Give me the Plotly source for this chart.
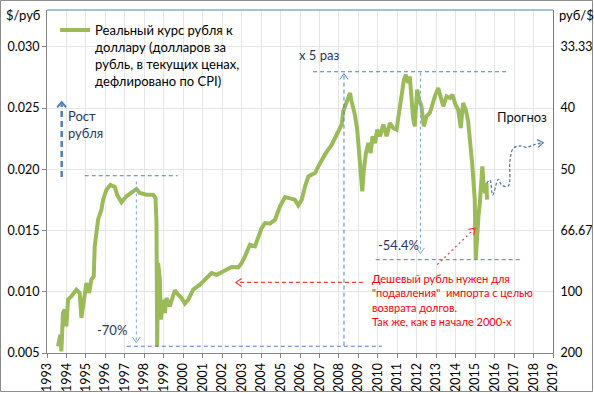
import math
import plotly.graph_objects as go

# ---------------- data ----------------
years = [1993.566, 1993.686, 1993.738, 1993.823, 1993.909, 1993.995, 1994.081, 1994.252, 1994.509, 1994.681,
         1994.767, 1994.852, 1995.024, 1995.161, 1995.281, 1995.401, 1995.453, 1995.624, 1995.796, 1995.882,
         1996.053, 1996.259, 1996.482, 1996.602, 1996.825, 1997.082, 1997.340, 1997.597, 1997.768, 1998.111,
         1998.454, 1998.575, 1998.626, 1998.660, 1998.712, 1998.798, 1998.849, 1998.935, 1999.055, 1999.141,
         1999.312, 1999.569, 1999.741, 1999.913, 2000.084, 2000.256, 2000.513, 2000.856, 2001.199, 2001.456,
         2001.714, 2002.057, 2002.228, 2002.486, 2002.829, 2003.000, 2003.172, 2003.429, 2003.686, 2003.858,
         2004.029, 2004.201, 2004.458, 2004.715, 2004.973, 2005.230, 2005.49, 2005.74, 2005.91, 2006.09,
         2006.26, 2006.43, 2006.60, 2006.77, 2006.94, 2007.11, 2007.28, 2007.45, 2007.63, 2007.80,
         2007.97, 2008.14, 2008.22, 2008.39, 2008.57, 2008.65, 2008.82, 2008.94, 2009.04, 2009.13,
         2009.20, 2009.28, 2009.39, 2009.51, 2009.63, 2009.73, 2009.85, 2009.97, 2010.11, 2010.28,
         2010.45, 2010.62, 2010.79, 2010.96, 2011.10, 2011.22, 2011.34, 2011.44, 2011.56, 2011.64,
         2011.73, 2011.82, 2011.90, 2012.02, 2012.12, 2012.24, 2012.36, 2012.50, 2012.67, 2012.81,
         2012.93, 2013.10, 2013.24, 2013.36, 2013.53, 2013.70, 2013.83, 2013.99, 2014.13, 2014.26,
         2014.38, 2014.52, 2014.64, 2014.76, 2014.86, 2014.93, 2014.98, 2015.03, 2015.10, 2015.17,
         2015.24, 2015.32, 2015.37, 2015.44, 2015.51, 2015.58, 2015.61]
usd_per_rub = [0.00554, 0.00650, 0.00514, 0.00827, 0.00854, 0.00718, 0.00935, 0.00963, 0.01017, 0.00990,
               0.00786, 0.00881, 0.01071, 0.00990, 0.01099, 0.01126, 0.01371, 0.01588, 0.01670, 0.01752,
               0.01833, 0.01871, 0.01855, 0.01792, 0.01730, 0.01779, 0.01806, 0.01839, 0.01806, 0.01792,
               0.01792, 0.01765, 0.01561, 0.00554, 0.01235, 0.01099, 0.00772, 0.00935, 0.00827, 0.00949,
               0.00881, 0.01012, 0.00976, 0.00949, 0.00903, 0.00935, 0.01017, 0.01058, 0.01112, 0.01153,
               0.01139, 0.01167, 0.01180, 0.01202, 0.01199, 0.01235, 0.01289, 0.01384, 0.01371, 0.01452,
               0.01520, 0.01561, 0.01556, 0.01588, 0.01697, 0.01773, 0.01765, 0.01752, 0.01705, 0.01752,
               0.01861, 0.01942, 0.01956, 0.01969, 0.02024, 0.02078, 0.02119, 0.02160, 0.02201, 0.02255,
               0.02309, 0.02364, 0.02473, 0.02554, 0.02622, 0.02554, 0.02446, 0.02323, 0.02160, 0.01997,
               0.01820, 0.01997, 0.02133, 0.02214, 0.02133, 0.02269, 0.02214, 0.02323, 0.02269, 0.02364,
               0.02269, 0.02377, 0.02337, 0.02323, 0.02486, 0.02622, 0.02731, 0.02772, 0.02704, 0.02758,
               0.02541, 0.02405, 0.02350, 0.02650, 0.02568, 0.02514, 0.02350, 0.02432, 0.02459, 0.02541,
               0.02595, 0.02663, 0.02568, 0.02514, 0.02595, 0.02582, 0.02609, 0.02527, 0.02486, 0.02337,
               0.02541, 0.02486, 0.02391, 0.02214, 0.02024, 0.01861, 0.01752, 0.01267, 0.01534, 0.01616,
               0.01724, 0.01861, 0.02024, 0.01861, 0.01806, 0.01888, 0.01752]

# forecast sketch (dashed wavy arrow)
forecast_years = [2015.59, 2015.76, 2015.90, 2016.19, 2016.36, 2016.70, 2016.79, 2016.96, 2017.30, 2017.65, 2017.99, 2018.50]
forecast_vals = [0.01885, 0.01912, 0.01790, 0.01918, 0.01871, 0.01863, 0.02075, 0.02171, 0.02190, 0.02179, 0.02198, 0.02217]

year_ticks = list(range(1993, 2020))
left_ticks = [0.005, 0.010, 0.015, 0.020, 0.025, 0.030]
left_labels = ["0.005", "0.010", "0.015", "0.020", "0.025", "0.030"]
right_labels = ["200", "100", "66.67", "50", "40", "33.33"]

series_name = "Реальный курс рубля к<br>доллару (долларов за<br>рубль, в текущих ценах,<br>дефлировано по CPI)"

# ---------------- layout constants ----------------
X_RANGE = [1993, 2019]
Y_RANGE = [0.005, 0.033]
ML, MR, MT, MB = 47, 41, 10, 40
W, H = 594, 393
PW, PH = W - ML - MR, H - MT - MB
PX_PER_YEAR = PW / (X_RANGE[1] - X_RANGE[0])
PX_PER_UNIT = PH / (Y_RANGE[1] - Y_RANGE[0])

FONT = "Lato, 'Open Sans', sans-serif"
GREEN = "#9bbb59"
BLUE = "#4f81bd"
LIGHTBLUE = "#7ea3d6"
RED = "#ff3b3b"

fig = go.Figure()
fig.add_trace(go.Scatter(x=years, y=usd_per_rub, mode="lines", name=series_name,
                         line=dict(color=GREEN, width=4)))
fig.add_trace(go.Scatter(x=forecast_years, y=forecast_vals, mode="lines", showlegend=False,
                         line=dict(color="#5b7bb0", width=1.3, dash="3px,2px", shape="spline"),
                         yaxis="y2", hoverinfo="skip"))

shapes = []


def dline(x0, y0, x1, y1, color, width=1, dash="dash"):
    shapes.append(dict(type="line", xref="x", yref="y", x0=x0, y0=y0, x1=x1, y1=y1,
                       line=dict(color=color, width=width, dash=dash), layer="above"))


def head(xt, yt, dir_px, color, width=1, size=7, ang=0.6):
    # dir_px: direction of arrow in pixel space (dx, dy with y downwards)
    dx, dy = dir_px
    n = math.hypot(dx, dy)
    dx, dy = dx / n, dy / n
    pts = []
    for s in (ang, -ang):
        bx = -(dx * math.cos(s) - dy * math.sin(s)) * size
        by = -(dx * math.sin(s) + dy * math.cos(s)) * size
        pts.append((xt + bx / PX_PER_YEAR, yt - by / PX_PER_UNIT))
    path = "M {},{} L {},{} L {},{}".format(pts[0][0], pts[0][1], xt, yt, pts[1][0], pts[1][1])
    shapes.append(dict(type="path", xref="x", yref="y", path=path,
                       line=dict(color=color, width=width), layer="above"))


# "Рост рубля" thick arrow
dline(1993.755, 0.01937, 1993.755, 0.02530, BLUE, 2.5, "6px,4px")
head(1993.755, 0.02549, (0, -1), BLUE, 2, 7, 0.7)
# 1997 peak level and -70% arrow
dline(1994.94, 0.01947, 1999.71, 0.01947, BLUE, 1, "4px,3px")
dline(1997.59, 0.01901, 1997.59, 0.00590, LIGHTBLUE, 1, "3px,3px")
head(1997.59, 0.00584, (0, 1), LIGHTBLUE, 1, 7, 0.6)
dline(1997.10, 0.00555, 2010.21, 0.00555, BLUE, 1, "4px,3px")
# x5 arrow and 2011 top level
dline(2006.67, 0.02796, 2016.64, 0.02796, BLUE, 1, "4px,3px")
dline(2008.26, 0.00560, 2008.26, 0.02770, BLUE, 1, "4px,3px")
head(2008.26, 0.02781, (0, -1), BLUE, 1, 7, 0.6)
# -54.4% arrow
dline(2012.19, 0.02788, 2012.19, 0.01320, LIGHTBLUE, 1, "3px,3px")
head(2012.19, 0.01311, (0, 1), LIGHTBLUE, 1, 7, 0.6)
dline(2009.89, 0.01262, 2017.29, 0.01262, BLUE, 1, "4px,3px")
# red arrows
dline(2009.23, 0.01076, 2002.75, 0.01076, RED, 1.2, "4px,3px")
head(2002.70, 0.01076, (-1, 0), RED, 1.2, 7, 0.6)
dline(2013.05, 0.01221, 2014.97, 0.01516, RED, 1.2, "2px,3px")
head(2015.00, 0.01519, (38, -36.5), RED, 1.2, 7, 0.6)
# forecast arrow head
head(2018.50, 0.02217, (1, -0.15), "#5b7bb0", 1.2, 7, 0.6)

# plot frame: top and right in blue, outer chart border in gray
shapes.append(dict(type="line", xref="paper", yref="paper", x0=0, x1=1, y0=1, y1=1,
                   line=dict(color=BLUE, width=1)))
shapes.append(dict(type="rect", xref="paper", yref="paper",
                   x0=-(ML - 0.5) / PW, x1=1 + (MR - 1.5) / PW,
                   y0=-(MB - 1.5) / PH, y1=1 + (MT - 0.5) / PH,
                   line=dict(color="#8c8c8c", width=1)))

annotations = []


def text(x, y, s, color="#000000", size=13, xanchor="left", align="left"):
    annotations.append(dict(x=x, y=y, xref="x", yref="y", text=s, showarrow=False,
                            xanchor=xanchor, yanchor="middle", align=align,
                            font=dict(family=FONT, size=size, color=color)))


text(1993.98, 0.02365, "Рост<br>рубля", "#1f3864")
text(1997.21, 0.00688, "-70%", "#1f3864", xanchor="right")
text(2005.85, 0.02933, "x 5 раз", "#1f3864")
text(2009.905, 0.01382, "-54.4%", "#1f3864")
text(2009.62, 0.00930,
     "Дешевый рубль нужен для<br>\"подавления\"  импорта с целью<br>возврата долгов.<br>Так же, как в начале 2000-х",
     "#ff0000", 11)
text(2016.01, 0.02426, "Прогноз", "#111111")

annotations.append(dict(x=-(ML - 4) / PW, y=1 - 5 / PH, xref="paper", yref="paper", text="$/руб",
                        showarrow=False, xanchor="left", yanchor="middle",
                        font=dict(family=FONT, size=13, color="#000")))
annotations.append(dict(x=1 + 4 / PW, y=1 - 5 / PH, xref="paper", yref="paper", text="руб/$",
                        showarrow=False, xanchor="left", yanchor="middle",
                        font=dict(family=FONT, size=13, color="#000")))

fig.update_layout(
    width=W, height=H,
    margin=dict(l=ML, r=MR, t=MT, b=MB, pad=0, autoexpand=False),
    paper_bgcolor="white", plot_bgcolor="white",
    font=dict(family=FONT, size=12, color="#000"),
    xaxis=dict(range=X_RANGE, tickvals=year_ticks, ticktext=[str(y) for y in year_ticks],
               tickangle=-90, ticks="outside", ticklen=4, tickcolor="#868686",
               showline=True, linecolor="#868686", linewidth=1, automargin=False,
               showgrid=True, gridcolor="#e6e6e6", gridwidth=1, zeroline=False,
               tickfont=dict(family=FONT, size=12.5, color="#000")),
    yaxis=dict(range=Y_RANGE, tickvals=left_ticks, ticktext=left_labels,
               ticks="outside", ticklen=4, tickcolor="#868686", automargin=False,
               showline=True, linecolor="#868686", linewidth=1,
               showgrid=True, gridcolor="#e6e6e6", gridwidth=1, zeroline=False,
               tickfont=dict(family=FONT, size=12.5, color="#000")),
    yaxis2=dict(range=Y_RANGE, overlaying="y", side="right", anchor="x",
                tickvals=left_ticks, ticktext=right_labels, ticks="", automargin=False,
                ticklabelstandoff=4,
                showline=True, linecolor=BLUE, linewidth=1, showgrid=False, zeroline=False,
                tickfont=dict(family=FONT, size=12.5, color="#000")),
    legend=dict(x=0.016, y=0.985, xanchor="left", yanchor="top", bgcolor="rgba(0,0,0,0)",
                valign="top", font=dict(family=FONT, size=13, color="#000"), itemwidth=30),
    showlegend=True,
    shapes=shapes,
    annotations=annotations,
)

fig.write_html("out.html", config={"displayModeBar": False},
               post_script="document.body.style.margin='0px';document.body.style.overflow='hidden';")
